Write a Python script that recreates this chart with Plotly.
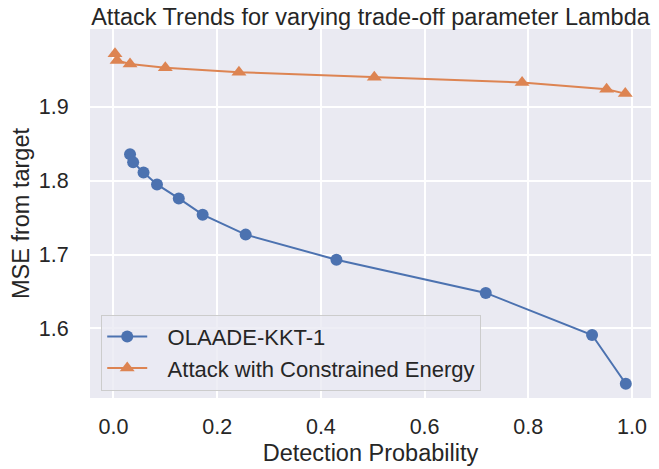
import plotly.graph_objects as go

# Data
olaade_x = [0.032, 0.038, 0.058, 0.084, 0.126, 0.172, 0.255, 0.430, 0.718, 0.923, 0.988]
olaade_y = [1.836, 1.825, 1.811, 1.795, 1.776, 1.754, 1.727, 1.693, 1.648, 1.591, 1.525]

energy_x = [0.003, 0.007, 0.032, 0.100, 0.242, 0.503, 0.788, 0.951, 0.987]
energy_y = [1.972, 1.963, 1.958, 1.953, 1.947, 1.940, 1.933, 1.924, 1.918]

x_ticks = [0.0, 0.2, 0.4, 0.6, 0.8, 1.0]
x_tick_labels = ["0.0", "0.2", "0.4", "0.6", "0.8", "1.0"]
y_ticks = [1.6, 1.7, 1.8, 1.9]
y_tick_labels = ["1.6", "1.7", "1.8", "1.9"]

series_names = ["OLAADE-KKT-1", "Attack with Constrained Energy"]

FONT = "Liberation Sans, Arial, sans-serif"
TXT = "#262626"
PAD = "\u2002\u2009"  # small visual gap between legend sample and label

# page body has an 8px margin, so the figure is sized/offset to compensate
W, H = 651, 461

fig = go.Figure()
fig.add_trace(go.Scatter(
    x=olaade_x, y=olaade_y, mode="lines+markers", name=PAD + series_names[0],
    line=dict(color="#4C72B0", width=2),
    marker=dict(symbol="circle", size=12, color="#4C72B0"),
))
fig.add_trace(go.Scatter(
    x=energy_x, y=energy_y, mode="lines+markers", name=PAD + series_names[1],
    line=dict(color="#DD8452", width=2),
    marker=dict(symbol="triangle-up", size=13, color="#DD8452"),
))

fig.update_layout(
    width=W, height=H,
    margin=dict(l=81, r=8, t=21, b=69, pad=0),
    paper_bgcolor="white",
    plot_bgcolor="#EAEAF2",
    font=dict(family=FONT, color=TXT, size=22),
    title=dict(text="Attack Trends for varying trade-off parameter Lambda",
               x=0.5, xref="paper", xanchor="center", y=1 - 9 / H, yanchor="middle",
               font=dict(size=23.5, color=TXT, family=FONT)),
    xaxis=dict(range=[-0.0452, 1.0366], tickvals=x_ticks, ticktext=x_tick_labels,
               showgrid=True, gridcolor="white", gridwidth=1.5, zeroline=False,
               showline=False, ticks="outside", ticklen=9, tickcolor="rgba(0,0,0,0)",
               tickfont=dict(size=21.5, color=TXT),
               title=dict(text="Detection Probability", font=dict(size=23.5, color=TXT), standoff=6)),
    yaxis=dict(range=[1.5057, 2.0055], tickvals=y_ticks, ticktext=y_tick_labels,
               showgrid=True, gridcolor="white", gridwidth=1.5, zeroline=False,
               showline=False, ticks="outside", ticklen=16, tickcolor="rgba(0,0,0,0)",
               tickfont=dict(size=21.5, color=TXT),
               title=dict(text="MSE from target", font=dict(size=23.5, color=TXT), standoff=6)),
    legend=dict(x=0.02, y=0.02, xanchor="left", yanchor="bottom",
                bgcolor="rgba(234,234,242,0.8)", bordercolor="#CCCCCC", borderwidth=1,
                font=dict(size=22, color=TXT), itemwidth=40, tracegroupgap=0),
    showlegend=True,
)

fig.write_html("out.html")
